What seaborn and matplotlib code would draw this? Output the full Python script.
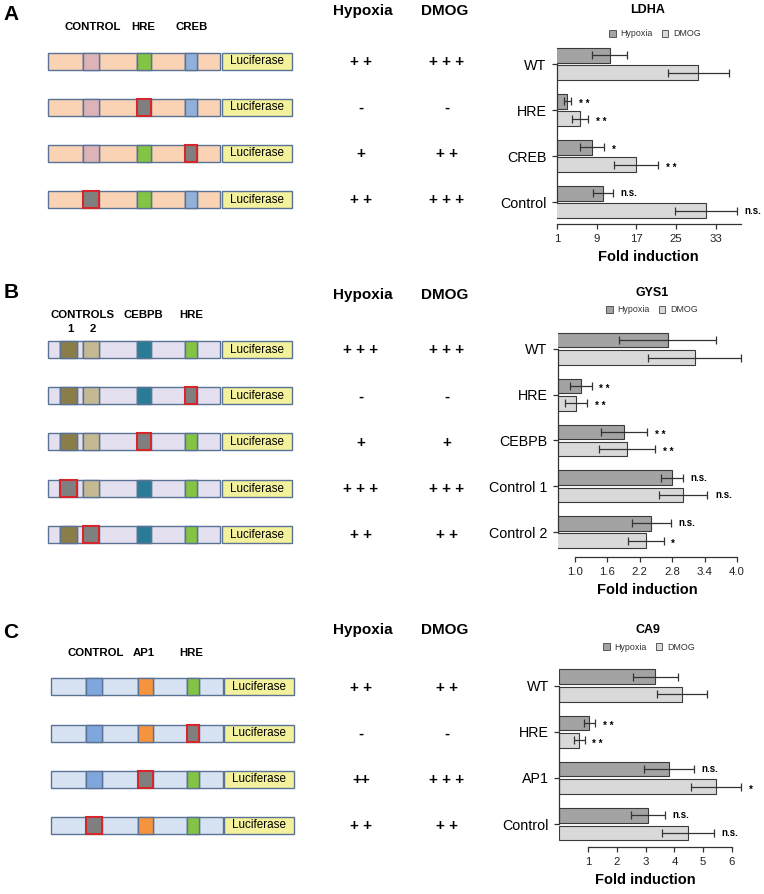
import matplotlib
matplotlib.use('Agg')
import pandas as pd
import matplotlib.pyplot as plt
from matplotlib.patches import Rectangle, Patch
import seaborn as sns

# ---------------- data ----------------
treatments = ['Hypoxia', 'DMOG']

# A - LDHA
ldha_constructs = ['WT', 'HRE', 'CREB', 'Control']
ldha_hyp = [11.6, 3.1, 8.1, 10.2]
ldha_hyp_err = [3.5, 0.75, 2.4, 2.0]
ldha_dmog = [29.5, 5.7, 16.9, 31.0]
ldha_dmog_err = [6.2, 1.6, 4.5, 6.2]
ldha_hyp_sig = ['', '* *', '*', 'n.s.']
ldha_dmog_sig = ['', '* *', '* *', 'n.s.']
ldha_hyp_score = ['+ +', '-', '+', '+ +']
ldha_dmog_score = ['+ + +', '-', '+ +', '+ + +']
ldha_xticks = [1, 9, 17, 25, 33]

# B - GYS1
gys1_constructs = ['WT', 'HRE', 'CEBPB', 'Control 1', 'Control 2']
gys1_hyp = [2.72, 1.11, 1.91, 2.80, 2.41]
gys1_hyp_err = [0.90, 0.20, 0.43, 0.20, 0.36]
gys1_dmog = [3.22, 1.02, 1.96, 3.00, 2.31]
gys1_dmog_err = [0.86, 0.20, 0.52, 0.45, 0.33]
gys1_hyp_sig = ['', '* *', '* *', 'n.s.', 'n.s.']
gys1_dmog_sig = ['', '* *', '* *', 'n.s.', '*']
gys1_hyp_score = ['+ + +', '-', '+', '+ + +', '+ +']
gys1_dmog_score = ['+ + +', '-', '+', '+ + +', '+ +']
gys1_xticks = [1.0, 1.6, 2.2, 2.8, 3.4, 4.0]

# C - CA9
ca9_constructs = ['WT', 'HRE', 'AP1', 'Control']
ca9_hyp = [3.33, 1.05, 3.81, 3.08]
ca9_hyp_err = [0.78, 0.19, 0.86, 0.59]
ca9_dmog = [4.26, 0.69, 5.44, 4.47]
ca9_dmog_err = [0.87, 0.19, 0.88, 0.89]
ca9_hyp_sig = ['', '* *', 'n.s.', 'n.s.']
ca9_dmog_sig = ['', '* *', '*', 'n.s.']
ca9_hyp_score = ['+ +', '-', '++', '+ +']
ca9_dmog_score = ['+ +', '-', '+ + +', '+ +']
ca9_xticks = [1, 2, 3, 4, 5, 6]

# ---------------- style / layout (pixels) ----------------
W, H = 764, 894
HYP_C, DMOG_C = '#a3a3a3', '#d9d9d9'
EDGE = '#5a7294'
MUT_FILL, MUT_EDGE = '#7f7f7f', '#d5262b'
LUC_FILL = '#f4f19c'
BOX_H = 17

sns.set_theme(style='white')
plt.rcParams['font.family'] = ['Liberation Sans', 'DejaVu Sans']
plt.rcParams['text.color'] = 'black'
plt.rcParams['axes.labelcolor'] = 'black'
plt.rcParams['ytick.color'] = 'black'

fig = plt.figure(figsize=(W / 100, H / 100), dpi=100)
bg = fig.add_axes([0, 0, 1, 1])
bg.set_xlim(0, W)
bg.set_ylim(H, 0)
bg.axis('off')


def px_axes(left, right, top, bottom):
    return fig.add_axes([left / W, 1 - bottom / H, (right - left) / W, (bottom - top) / H])


def draw_construct(y, bar, luc, fill, elements, mutated):
    x0, x1 = bar
    edges = sorted({x0, x1} | {v for a, b, _ in elements.values() for v in (a, b)})
    for a, b in zip(edges[:-1], edges[1:]):
        bg.add_patch(Rectangle((a, y - BOX_H / 2), b - a, BOX_H, fc=fill, ec=EDGE, lw=1.0))
    for name, (a, b, col) in elements.items():
        if name == mutated:
            bg.add_patch(Rectangle((a, y - BOX_H / 2), b - a, BOX_H, fc=MUT_FILL,
                                   ec=MUT_EDGE, lw=1.5, zorder=3))
        else:
            bg.add_patch(Rectangle((a, y - BOX_H / 2), b - a, BOX_H, fc=col, ec=EDGE, lw=1.0))
    bg.add_patch(Rectangle((luc[0], y - BOX_H / 2), luc[1] - luc[0], BOX_H,
                           fc=LUC_FILL, ec=EDGE, lw=1.0))
    bg.text((luc[0] + luc[1]) / 2, y + 0.5, 'Luciferase', ha='center', va='center', fontsize=8.4)


def draw_scores(rows, hyp_score, dmog_score, header_y):
    bg.text(363, header_y, 'Hypoxia', ha='center', va='center', fontsize=11, fontweight='bold')
    bg.text(445, header_y, 'DMOG', ha='center', va='center', fontsize=11, fontweight='bold')
    for y, h, d in zip(rows, hyp_score, dmog_score):
        bg.text(361, y + 1, h, ha='center', va='center', fontsize=11, fontweight='bold')
        bg.text(447, y + 1, d, ha='center', va='center', fontsize=11, fontweight='bold')


def draw_bars(box, gene, title_xy, legend_xy, constructs, hyp, hyp_err, dmog, dmog_err,
              hyp_sig, dmog_sig, xlim, ylim_bottom, xticks, xbounds, fmt):
    n = len(constructs)
    df = pd.DataFrame({
        'construct': constructs * 2,
        'treatment': ['Hypoxia'] * n + ['DMOG'] * n,
        'fold': hyp + dmog,
        'err': hyp_err + dmog_err,
        'sig': hyp_sig + dmog_sig,
    })
    ax = px_axes(*box)
    sns.barplot(data=df, x='fold', y='construct', hue='treatment', order=constructs,
                hue_order=treatments, palette=[HYP_C, DMOG_C], orient='h', width=0.76,
                gap=0.17, errorbar=None, edgecolor='#3a3a3a', linewidth=0.8,
                legend=False, ax=ax)
    for level, cont in zip(treatments, ax.containers):
        sub = df[df.treatment == level].set_index('construct')
        for bar in cont:
            yc = bar.get_y() + bar.get_height() / 2
            row = sub.loc[constructs[int(round(yc))]]
            ax.errorbar(row.fold, yc, xerr=row.err, fmt='none', ecolor='#333333',
                        elinewidth=0.9, capsize=2.6, capthick=0.9, clip_on=False)
            if row.sig:
                dy = -2.2 if '*' in row.sig else 0
                ax.annotate(row.sig, (row.fold + row.err, yc), xytext=(5.5, dy),
                            textcoords='offset points', ha='left', va='center',
                            fontsize=7, fontweight='bold', annotation_clip=False)
    ax.set_xlim(*xlim)
    ax.set_ylim(ylim_bottom, -0.55)
    ax.patch.set_alpha(0)
    sns.despine(ax=ax)
    for s in ('left', 'bottom'):
        ax.spines[s].set_color('#333333')
        ax.spines[s].set_linewidth(0.9)
    ax.spines['left'].set_bounds(0, n - 1)
    ax.spines['bottom'].set_bounds(*xbounds)
    ax.set_xticks(xticks)
    ax.set_xticklabels([fmt.format(t) for t in xticks])
    ax.tick_params(axis='y', length=3.5, width=0.9, color='#333333', labelsize=10.3, pad=4,
                   left=True, labelcolor='black')
    ax.tick_params(axis='x', length=3.5, width=0.9, color='#333333', labelsize=8.2, pad=4,
                   labelcolor='#222222', bottom=True)
    ax.set_ylabel('')
    ax.set_xlabel('Fold induction', fontsize=10.5, fontweight='bold', labelpad=4)
    bg.text(title_xy[0], title_xy[1], gene, ha='center', va='center', fontsize=9,
            fontweight='bold')
    handles = [Patch(fc=HYP_C, ec='#444444', lw=0.6, label='Hypoxia'),
               Patch(fc=DMOG_C, ec='#444444', lw=0.6, label='DMOG')]
    leg = ax.legend(handles=handles, loc='center', bbox_to_anchor=(legend_xy[0] / W, 1 - legend_xy[1] / H),
                    bbox_transform=fig.transFigure, ncol=2, frameon=False, fontsize=6.4,
                    handlelength=0.75, handleheight=0.75, handletextpad=0.5,
                    columnspacing=1.0, borderpad=0, borderaxespad=0)
    for t in leg.get_texts():
        t.set_color('#333333')
    return ax


# ---------------- panel A ----------------
bg.text(11, 15, 'A', ha='center', va='center', fontsize=15, fontweight='bold')
for label, x in [('CONTROL', 93), ('HRE', 143), ('CREB', 192)]:
    bg.text(x, 27, label, ha='center', va='center', fontsize=8.2, fontweight='bold')
a_rows = [61, 107, 153, 199.5]
a_elements = {'Control': (83, 99, '#ddb3b8'), 'HRE': (137, 151, '#84c444'),
              'CREB': (185, 197, '#92b1da')}
for y, c in zip(a_rows, ldha_constructs):
    draw_construct(y, (48, 220), (222, 292), '#fad3b5', a_elements, c)
draw_scores(a_rows, ldha_hyp_score, ldha_dmog_score, 11)
draw_bars((557, 740.5, 38.7, 224), 'LDHA', (648, 10), (655, 34), ldha_constructs,
          ldha_hyp, ldha_hyp_err, ldha_dmog, ldha_dmog_err, ldha_hyp_sig, ldha_dmog_sig,
          (1, 38), 3.478, ldha_xticks, (1, 38), '{:g}')

# ---------------- panel B ----------------
bg.text(11, 292, 'B', ha='center', va='center', fontsize=15, fontweight='bold')
for label, x, y in [('CONTROLS', 83, 315), ('1', 70, 329), ('2', 93, 329),
                    ('CEBPB', 143, 315), ('HRE', 191, 315)]:
    bg.text(x, y, label, ha='center', va='center', fontsize=8.2, fontweight='bold')
b_rows = [349.5, 395.5, 441.5, 488, 534]
b_elements = {'Control 1': (60, 77, '#8b7d4a'), 'Control 2': (83, 99, '#c5b992'),
              'CEBPB': (137, 151, '#2a7c96'), 'HRE': (185, 197, '#84c444')}
for y, c in zip(b_rows, gys1_constructs):
    draw_construct(y, (48, 220), (222, 292), '#e4e0f0', b_elements, c)
draw_scores(b_rows, gys1_hyp_score, gys1_dmog_score, 295)
draw_bars((558, 737, 323.8, 557), 'GYS1', (652, 293), (652, 310), gys1_constructs,
          gys1_hyp, gys1_hyp_err, gys1_dmog, gys1_dmog_err, gys1_hyp_sig, gys1_dmog_sig,
          (0.685, 4.0), 4.546, gys1_xticks, (1.0, 4.0), '{:.1f}')

# ---------------- panel C ----------------
bg.text(11, 632, 'C', ha='center', va='center', fontsize=15, fontweight='bold')
for label, x in [('CONTROL', 96), ('AP1', 144), ('HRE', 191)]:
    bg.text(x, 653, label, ha='center', va='center', fontsize=8.2, fontweight='bold')
c_rows = [686.5, 733, 779, 825]
c_elements = {'Control': (86, 102, '#7fa7db'), 'AP1': (138, 153, '#f7933c'),
              'HRE': (187, 199, '#84c444')}
for y, c in zip(c_rows, ca9_constructs):
    draw_construct(y, (51, 223), (224, 294), '#d7e3f3', c_elements, c)
draw_scores(c_rows, ca9_hyp_score, ca9_dmog_score, 630)
draw_bars((559.2, 732, 660.1, 847), 'CA9', (648, 630), (649, 647), ca9_constructs,
          ca9_hyp, ca9_hyp_err, ca9_dmog, ca9_dmog_err, ca9_hyp_sig, ca9_dmog_sig,
          (0, 6), 3.496, ca9_xticks, (1, 6), '{:g}')

fig.savefig('out.png', dpi=100)
